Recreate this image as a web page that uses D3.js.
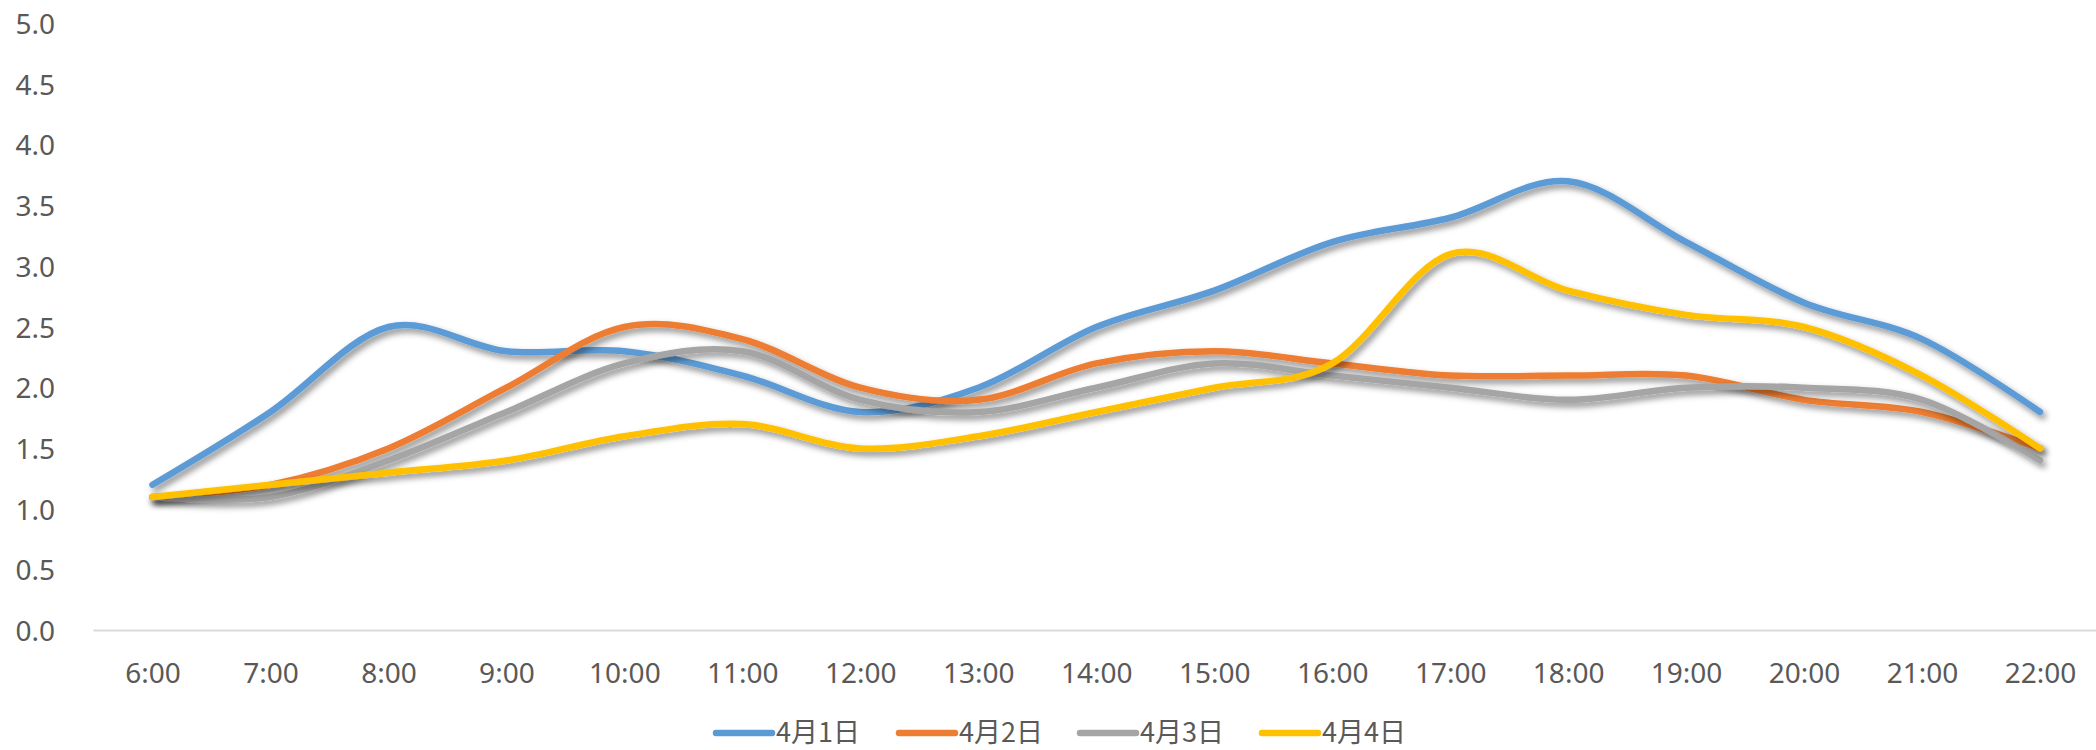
<!DOCTYPE html>
<html>
<head>
<meta charset="utf-8">
<script src="https://cdn.jsdelivr.net/npm/d3@7"></script>
<style>
  html, body { margin: 0; padding: 0; background: #ffffff; }
  svg { display: block; }
</style>
</head>
<body>
<svg id="chart" width="2096" height="750"></svg>
<script>
const categories = ["6:00","7:00","8:00","9:00","10:00","11:00","12:00","13:00","14:00","15:00","16:00","17:00","18:00","19:00","20:00","21:00","22:00"];
const seriesNames = ["4月1日","4月2日","4月3日","4月4日"];
const apr1 = [1.2,1.8,2.5,2.3,2.3,2.1,1.8,2.0,2.5,2.8,3.2,3.4,3.7,3.2,2.7,2.4,1.8];
const apr2 = [1.1,1.2,1.5,2.0,2.5,2.4,2.0,1.9,2.2,2.3,2.2,2.1,2.1,2.1,1.9,1.8,1.5];
const apr3 = [1.1,1.1,1.4,1.8,2.2,2.3,1.9,1.8,2.0,2.2,2.1,2.0,1.9,2.0,2.0,1.9,1.4];
const apr4 = [1.1,1.2,1.3,1.4,1.6,1.7,1.5,1.6,1.8,2.0,2.2,3.1,2.8,2.6,2.5,2.1,1.5];
const yTicks = [0,0.5,1,1.5,2,2.5,3,3.5,4,4.5,5];
const colors = ["#5B9BD5","#ED7D31","#A5A5A5","#FFC000"];

(function () {
const series = [apr1, apr2, apr3, apr4].map((v, i) => ({ name: seriesNames[i], values: v, color: colors[i] }));

const svg = d3.select("#chart");
const W = 2096;
const plotLeft = 93.5, plotRight = 2099, plotTop = 23.5, plotBottom = 630.5;

const x = d3.scalePoint().domain(categories).range([plotLeft, plotRight]).padding(0.5);
const y = d3.scaleLinear().domain([0, 5]).range([plotBottom, plotTop]);

const defs = svg.append("defs");
const f = defs.append("filter").attr("id", "shadow")
  .attr("x", "-5%").attr("y", "-20%").attr("width", "110%").attr("height", "140%");
f.append("feDropShadow").attr("dx", 3).attr("dy", 4).attr("stdDeviation", 3)
  .attr("flood-color", "#000").attr("flood-opacity", 0.45);

const textColor = "#595959";
const font = "'Noto Sans', 'Noto Sans CJK SC', sans-serif";

// Y axis labels
const yAxis = d3.axisLeft(y).tickValues(yTicks).tickFormat(d3.format(".1f")).tickSize(0).tickPadding(0);
const gy = svg.append("g").attr("transform", "translate(55,0)").call(yAxis);
gy.select(".domain").remove();
gy.selectAll("text").attr("fill", textColor).style("font-family", font).style("font-size", "28px").attr("dy", "0.36em");

// X axis
const xAxis = d3.axisBottom(x).tickSize(0).tickPadding(0);
const gx = svg.append("g").attr("transform", `translate(0,${plotBottom})`).call(xAxis);
gx.select(".domain").attr("stroke", "#d9d9d9").attr("stroke-width", 2)
  .attr("d", `M${plotLeft},0H${W}`);
gx.selectAll("text").attr("fill", textColor).style("font-family", font).style("font-size", "28px")
  .attr("y", 52).attr("dy", 0);

// Lines
const line = d3.line()
  .x((d, i) => x(categories[i]))
  .y(d => y(d))
  .curve(d3.curveCardinal.tension(0));

svg.append("g").selectAll("path").data(series).join("path")
  .attr("d", d => line(d.values))
  .attr("fill", "none")
  .attr("stroke", d => d.color)
  .attr("stroke-width", 6.5)
  .attr("stroke-linecap", "round")
  .attr("stroke-linejoin", "round")
  .attr("filter", "url(#shadow)");

// Legend
const legendX = [716, 899, 1080, 1262];
const lg = svg.append("g").selectAll("g").data(series).join("g")
  .attr("transform", (d, i) => `translate(${legendX[i]},733)`);
lg.append("line").attr("x1", 0).attr("x2", 56).attr("y1", 0).attr("y2", 0)
  .attr("stroke", d => d.color).attr("stroke-width", 6.5).attr("stroke-linecap", "round");
lg.append("text").attr("x", 60).attr("y", 9)
  .attr("fill", textColor).style("font-family", "'Noto Sans CJK SC', sans-serif").style("font-size", "27px")
  .text(d => d.name);
})();
</script>
</body>
</html>
